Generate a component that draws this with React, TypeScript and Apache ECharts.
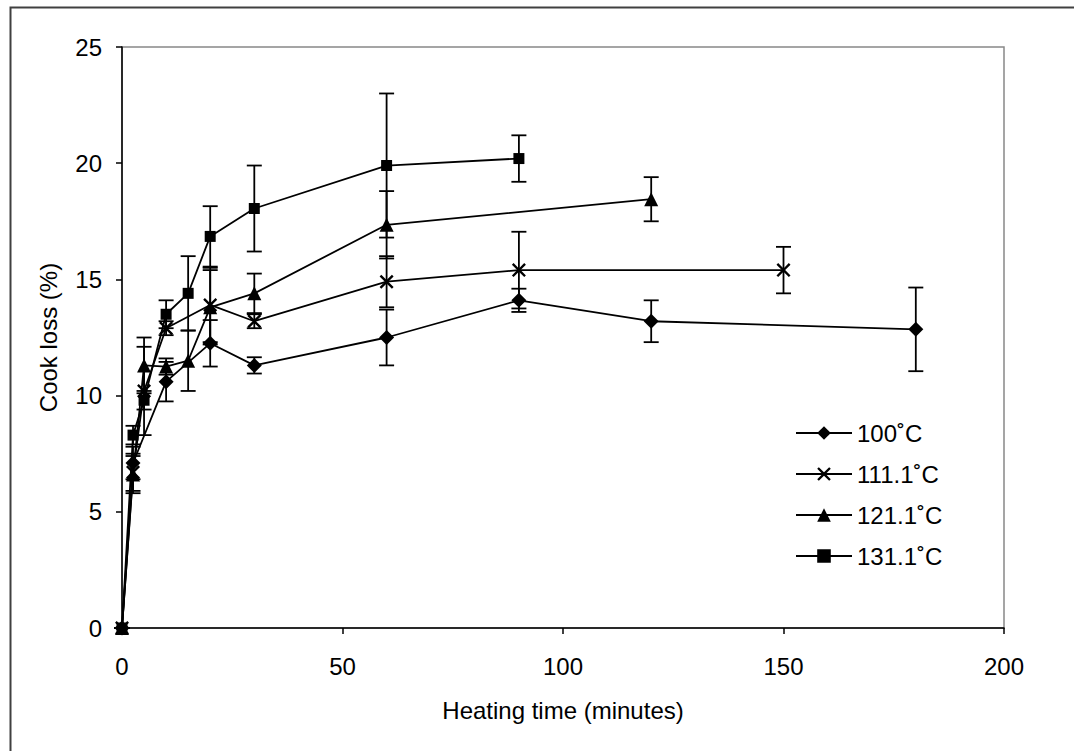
import React, { useEffect, useRef } from "react";
import * as echarts from "echarts";

// Heating times (minutes) per series
const times100 = [0, 2.5, 10, 20, 30, 60, 90, 120, 180];
const times111 = [0, 2.5, 5, 10, 20, 30, 60, 90, 150];
const times121 = [0, 2.5, 5, 10, 15, 20, 30, 60, 120];
const times131 = [0, 2.5, 5, 10, 15, 20, 30, 60, 90];

// Cook loss (%) per series
const loss100 = [0, 7.1, 10.6, 12.25, 11.3, 12.5, 14.1, 13.2, 12.85];
const loss111 = [0, 6.7, 10.2, 12.9, 13.9, 13.2, 14.9, 15.4, 15.4];
const loss121 = [0, 6.6, 11.3, 11.25, 11.5, 13.8, 14.4, 17.35, 18.45];
const loss131 = [0, 8.3, 9.8, 13.5, 14.4, 16.85, 18.05, 19.9, 20.2];

// Error (+/-) per point
const err100 = [0, 0.7, 0.85, 1.0, 0.35, 1.2, 0.5, 0.9, 1.8];
const err111 = [0, 0.8, 1.9, 0.3, 1.6, 0.3, 1.1, 1.65, 1.0];
const err121 = [0, 0.8, 1.2, 0.35, 1.3, 1.6, 0.85, 1.45, 0.95];
const err131 = [0, 0.4, 0.4, 0.6, 1.6, 1.3, 1.85, 3.1, 1.0];

const seriesNames = ["100˚C", "111.1˚C", "121.1˚C", "131.1˚C"];
const xTicks = { min: 0, max: 200, interval: 50 };
const yTicks = { min: 0, max: 25, interval: 5 };

const FONT = "'Liberation Sans', Arial, sans-serif";
const CROSS =
  "path://M0,1.2 L1.2,0 L5,3.8 L8.8,0 L10,1.2 L6.2,5 L10,8.8 L8.8,10 L5,6.2 L1.2,10 L0,8.8 L3.8,5 Z";

export default function App() {
  const ref = useRef<HTMLDivElement>(null);

  useEffect(() => {
    if (!ref.current) return;
    const chart = echarts.init(ref.current, undefined, { renderer: "svg" });

    const groups = [
      { t: times100, v: loss100, e: err100, symbol: "diamond", size: 15 },
      { t: times111, v: loss111, e: err111, symbol: CROSS, size: 14 },
      { t: times121, v: loss121, e: err121, symbol: "triangle", size: 14 },
      { t: times131, v: loss131, e: err131, symbol: "rect", size: 11 },
    ];

    const errorSeries = groups.map((g, i) => ({
      type: "custom",
      name: "err" + i,
      z: 1,
      silent: true,
      data: g.t.map((t, k) => [t, g.v[k] - g.e[k], g.v[k] + g.e[k]]),
      encode: { x: 0, y: [1, 2] },
      renderItem: (params: any, api: any) => {
        const lo = api.coord([api.value(0), api.value(1)]);
        const hi = api.coord([api.value(0), api.value(2)]);
        const hw = 7.5;
        const style = { stroke: "#000", lineWidth: 1.8 };
        return {
          type: "group",
          children: [
            { type: "line", shape: { x1: lo[0], y1: lo[1], x2: hi[0], y2: hi[1] }, style },
            { type: "line", shape: { x1: hi[0] - hw, y1: hi[1], x2: hi[0] + hw, y2: hi[1] }, style },
            { type: "line", shape: { x1: lo[0] - hw, y1: lo[1], x2: lo[0] + hw, y2: lo[1] }, style },
          ],
        };
      },
    }));

    const lineSeries = groups.map((g, i) => ({
      type: "line",
      name: seriesNames[i],
      z: 3,
      data: g.t.map((t, k) => [t, g.v[k]]),
      symbol: g.symbol,
      symbolSize: g.size,
      showAllSymbol: true,
      lineStyle: { color: "#000", width: 1.8 },
      itemStyle: { color: "#000", borderWidth: 0 },
    }));

    chart.setOption({
      animation: false,
      backgroundColor: "#fff",
      textStyle: { fontFamily: FONT },
      grid: {
        left: 122,
        top: 47,
        right: 1074 - 1004,
        bottom: 751 - 628,
        show: true,
        borderColor: "#888",
        borderWidth: 1.5,
        backgroundColor: "transparent",
      },
      graphic: [
        {
          type: "rect",
          left: 8,
          top: 5,
          shape: { x: 0, y: 0, width: 1065, height: 800 },
          style: { fill: "none", stroke: "#404040", lineWidth: 2 },
          silent: true,
        },
      ],
      legend: {
        data: seriesNames,
        orient: "vertical",
        left: 790,
        top: 416,
        itemWidth: 56,
        itemHeight: 17,
        itemGap: 17,
        textStyle: { color: "#000", fontSize: 24, fontFamily: FONT },
      },
      xAxis: {
        type: "value",
        min: xTicks.min,
        max: xTicks.max,
        interval: xTicks.interval,
        name: "Heating time (minutes)",
        nameLocation: "middle",
        nameGap: 70,
        nameTextStyle: { color: "#000", fontSize: 24, fontFamily: FONT },
        axisLine: { show: true, onZero: false, lineStyle: { color: "#000", width: 1.5 } },
        axisTick: { show: true, inside: false, length: 6, lineStyle: { color: "#000", width: 1.5 } },
        axisLabel: { color: "#000", fontSize: 24, fontFamily: FONT, margin: 26 },
        splitLine: { show: false },
      },
      yAxis: {
        type: "value",
        min: yTicks.min,
        max: yTicks.max,
        interval: yTicks.interval,
        name: "Cook loss (%)",
        nameLocation: "middle",
        nameGap: 62,
        nameRotate: 90,
        nameTextStyle: { color: "#000", fontSize: 24, fontFamily: FONT },
        axisLine: { show: true, onZero: false, lineStyle: { color: "#000", width: 1.5 } },
        axisTick: { show: true, inside: false, length: 6, lineStyle: { color: "#000", width: 1.5 } },
        axisLabel: { color: "#000", fontSize: 24, fontFamily: FONT, margin: 20 },
        splitLine: { show: false },
      },
      series: [...errorSeries, ...lineSeries],
    });

    return () => chart.dispose();
  }, []);

  return (
    <div
      ref={ref}
      style={{ position: "fixed", left: 0, top: 0, width: 1074, height: 751, background: "#fff" }}
    />
  );
}
